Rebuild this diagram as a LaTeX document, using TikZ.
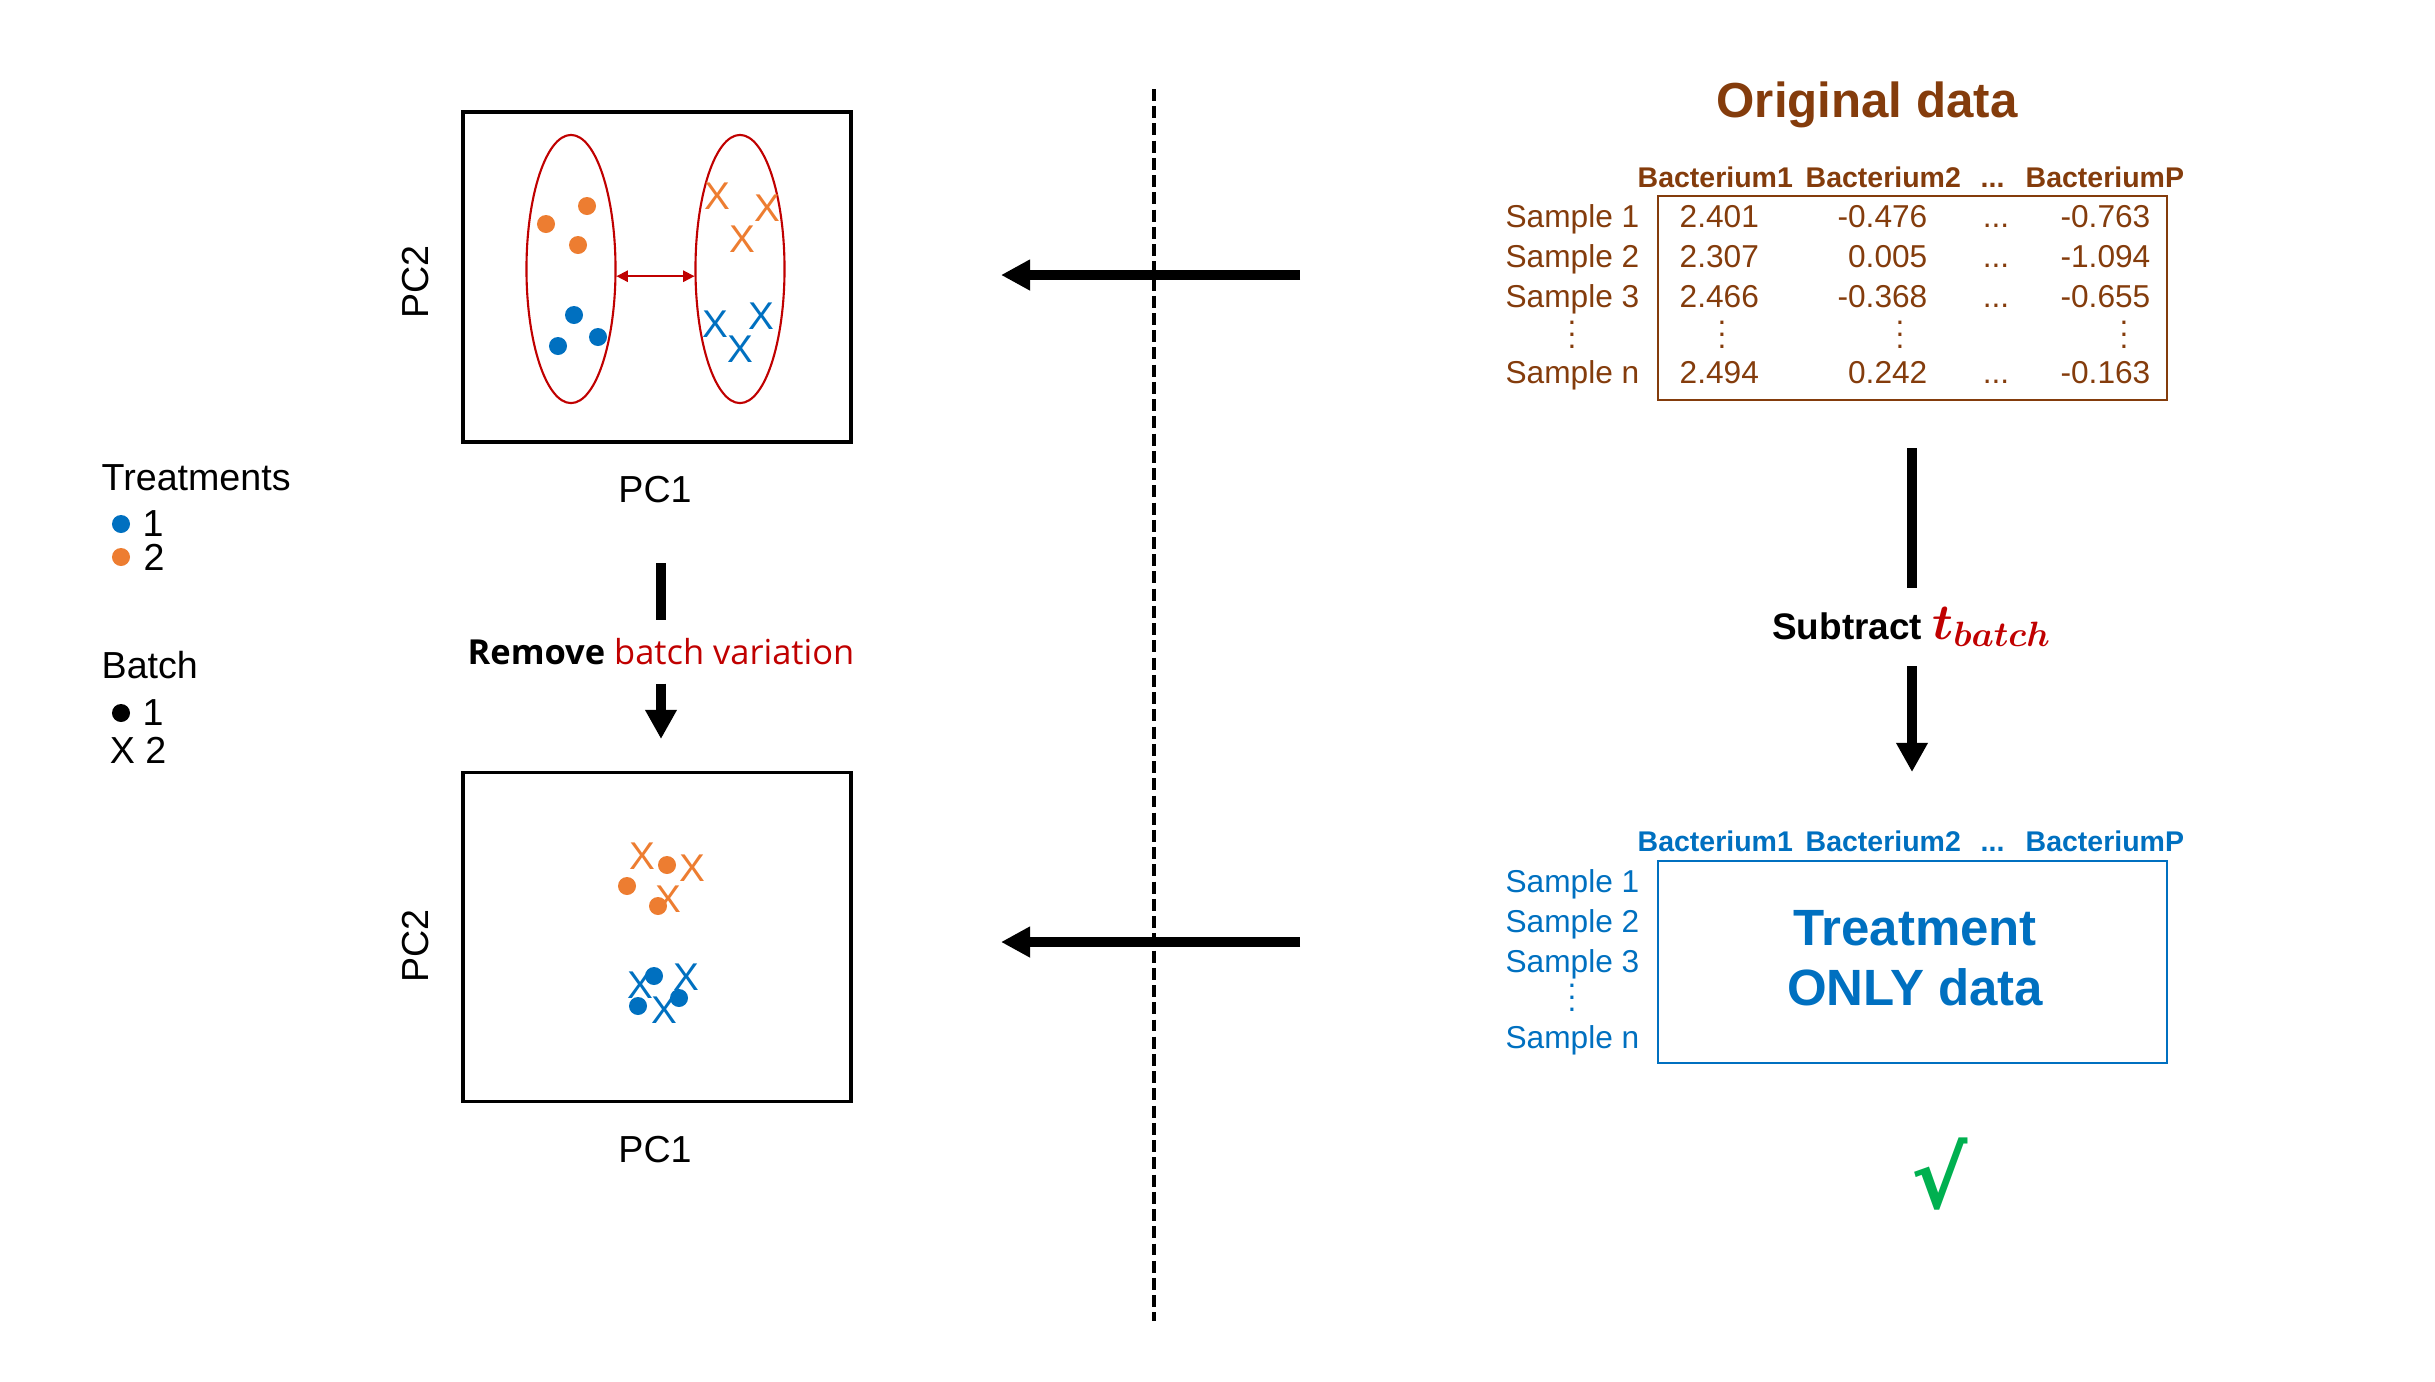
\documentclass[tikz,border=0pt]{standalone}
\usepackage{fontspec}
\usepackage{amsmath}
\setmainfont{Liberation Sans}
\newfontfamily\uifont{Open Sans}
\newfontfamily\symfont{DejaVu Sans}
\usetikzlibrary{arrows.meta,shapes.geometric}
\definecolor{torange}{HTML}{ED7D31}
\definecolor{tblue}{HTML}{0070C0}
\definecolor{tred}{HTML}{C00000}
\definecolor{tbrown}{HTML}{843C0C}
\definecolor{tgreen}{HTML}{00B050}
\newcommand{\vdotsx}{.\\.\\.}

\begin{document}
\begin{tikzpicture}[
        x=0.01cm, y=-0.01cm, % 1 единица = 1 пиксель
        pcbox/.style = {draw, line width=1pt, minimum width=3.88cm, minimum height=3.3cm, inner sep=0}, % рамка графика
        clus/.style = {ellipse, draw=tred, line width=0.6pt, minimum width=0.89cm, minimum height=2.68cm, inner sep=0},
        spread/.style = {draw=tred, line width=0.5pt, {Triangle[length=3.2pt,width=3.2pt]}-{Triangle[length=3.2pt,width=3.2pt]}},
        dot/.style = {circle, fill, inner sep=0, minimum size=0.18cm}, % точка
        xmark/.style = {inner sep=0, font=\fontsize{11}{11}\selectfont}, % крестик
        lbl/.style = {inner sep=0, font=\fontsize{10.7}{12}\selectfont},
        hdr/.style = {inner sep=0, anchor=base west, font=\bfseries\fontsize{8.1}{9}\selectfont},
        cellt/.style = {inner sep=0, font=\fontsize{9}{10}\selectfont},
        vdts/.style = {inner sep=0, align=center, font=\fontsize{9}{3.4}\selectfont},
        tabbox/.style = {draw, line width=0.6pt, minimum width=5.09cm, inner sep=0},
        shaft/.style = {draw, line width=2.8pt},
        bigarrow/.style = {draw, line width=2.8pt, -{Triangle[length=8.3pt,width=8.5pt]}},
        harrow/.style = {draw, line width=3.1pt, -{Triangle[length=8.3pt,width=8.3pt]}},
        divider/.style = {draw, line width=1pt, dash pattern=on 3.4pt off 1.5pt},
    ]
    \useasboundingbox (0,0) rectangle (2435,1381);

    % верхний график: до удаления
    \node[pcbox] (pcaA) at (657,277) {};
    \node[lbl] (pcaAx) at (655,490) {PC1};
    \node[lbl, rotate=90] (pcaAy) at (416,282) {PC2};
    \node[clus] (clA) at (571,269) {};
    \node[clus] (clB) at (740,269) {};
    \draw[spread] (clA.-9) -- (clB.189);
    \node[dot, torange] (aO1) at (587,206) {};
    \node[dot, torange] (aO2) at (546,224) {};
    \node[dot, torange] (aO3) at (578,245) {};
    \node[dot, tblue] (aB1) at (574,315) {};
    \node[dot, tblue] (aB2) at (558,346) {};
    \node[dot, tblue] (aB3) at (598,337) {};
    \node[xmark, torange] (aX1) at (717,196) {X};
    \node[xmark, torange] (aX2) at (767,208) {X};
    \node[xmark, torange] (aX3) at (742,239) {X};
    \node[xmark, tblue] (aX4) at (715,324) {X};
    \node[xmark, tblue] (aX5) at (761,316) {X};
    \node[xmark, tblue] (aX6) at (740,349) {X};

    % нижний график: после удаления
    \node[pcbox, minimum height=3.29cm] (pcaB) at (657,937) {};
    \node[lbl] (pcaBx) at (655,1150) {PC1};
    \node[lbl, rotate=90] (pcaBy) at (416,946) {PC2};
    \node[dot, torange] (bO1) at (627,886) {};
    \node[dot, torange] (bO2) at (667,865) {};
    \node[dot, torange] (bO3) at (658,906) {};
    \node[xmark, torange] (bX1) at (642,856) {X};
    \node[xmark, torange] (bX2) at (692,868) {X};
    \node[xmark, torange] (bX3) at (668,899) {X};
    \node[xmark, tblue] (bX4) at (640,985) {X};
    \node[xmark, tblue] (bX5) at (686,977) {X};
    \node[xmark, tblue] (bX6) at (664,1010) {X};
    \node[dot, tblue] (bB1) at (654,976) {};
    \node[dot, tblue] (bB2) at (638,1006) {};
    \node[dot, tblue] (bB3) at (679,998) {};

    % легенда
    \node[lbl, anchor=west] (trt) at (101,478) {Treatments};
    \node[dot, tblue] (trt1d) at (121,524) {};
    \node[lbl] (trt1) at (153,524) {1};
    \node[dot, torange] (trt2d) at (121,557) {};
    \node[lbl] (trt2) at (154,557) {2};
    \node[lbl, anchor=west] (bat) at (101,665) {Batch};
    \node[dot, black] (bat1d) at (121,713) {};
    \node[lbl] (bat1) at (153,713) {1};
    \node[lbl] (bat2) at (138,750) {X 2};

    % удаление батч-эффекта
    \coordinate (rmTop) at (661,563);
    \coordinate (rmEnd) at (661,739);
    \node[inner sep=0, minimum height=0.62cm, font=\uifont\fontsize{9.8}{12}\selectfont] (rmv) at (661,652)
        {{\bfseries Remove} \textcolor{tred}{batch variation}};
    \draw[shaft] (rmTop) -- (rmv.north);
    \draw[bigarrow] (rmv.south) -- (rmEnd);

    % разделитель и стрелки к графикам
    \coordinate (sepT) at (1154,89);
    \coordinate (sepB) at (1154,1321);
    \draw[divider] (sepT) -- (sepB);
    \coordinate (arA) at (1300,275);
    \coordinate (arAe) at (1001,275);
    \draw[harrow] (arA) -- (arAe);
    \coordinate (arB) at (1300,942);
    \coordinate (arBe) at (1001,942);
    \draw[harrow] (arB) -- (arBe);

    % исходные данные
    \node[inner sep=0, anchor=base, tbrown, font=\bfseries\fontsize{14}{16}\selectfont] (orig) at (1867,117) {Original data};
    \node[hdr, tbrown] (hA1) at (1637,187) {Bacterium1};
    \node[hdr, tbrown] (hA2) at (1805,187) {Bacterium2};
    \node[hdr, tbrown] (hA3) at (1980,187) {...};
    \node[hdr, tbrown] (hAP) at (2025,187) {BacteriumP};
    \node[tabbox, draw=tbrown, minimum height=2.04cm] (tabA) at (1912.5,298) {};
    \node[cellt, tbrown, anchor=base east] (sA1) at (1640,227) {Sample 1};
    \node[cellt, tbrown, anchor=base west] (vA11) at (1679,227) {2.401};
    \node[cellt, tbrown, anchor=base east] (vA12) at (1928,227) {-0.476};
    \node[cellt, tbrown, anchor=base] (vA13) at (1996,227) {...};
    \node[cellt, tbrown, anchor=base east] (vA14) at (2151,227) {-0.763};
    \node[cellt, tbrown, anchor=base east] (sA2) at (1640,267) {Sample 2};
    \node[cellt, tbrown, anchor=base west] (vA21) at (1679,267) {2.307};
    \node[cellt, tbrown, anchor=base east] (vA22) at (1928,267) {0.005};
    \node[cellt, tbrown, anchor=base] (vA23) at (1996,267) {...};
    \node[cellt, tbrown, anchor=base east] (vA24) at (2151,267) {-1.094};
    \node[cellt, tbrown, anchor=base east] (sA3) at (1640,307) {Sample 3};
    \node[cellt, tbrown, anchor=base west] (vA31) at (1679,307) {2.466};
    \node[cellt, tbrown, anchor=base east] (vA32) at (1928,307) {-0.368};
    \node[cellt, tbrown, anchor=base] (vA33) at (1996,307) {...};
    \node[cellt, tbrown, anchor=base east] (vA34) at (2151,307) {-0.655};
    \node[vdts, tbrown] (dA0) at (1572,335) {\vdotsx};
    \node[vdts, tbrown] (dA1) at (1722,335) {\vdotsx};
    \node[vdts, tbrown] (dA2) at (1900,335) {\vdotsx};
    \node[vdts, tbrown] (dA4) at (2124,335) {\vdotsx};
    \node[cellt, tbrown, anchor=base east] (sAn) at (1640,383) {Sample n};
    \node[cellt, tbrown, anchor=base west] (vAn1) at (1679,383) {2.494};
    \node[cellt, tbrown, anchor=base east] (vAn2) at (1928,383) {0.242};
    \node[cellt, tbrown, anchor=base] (vAn3) at (1996,383) {...};
    \node[cellt, tbrown, anchor=base east] (vAn4) at (2151,383) {-0.163};

    % вычитание
    \coordinate (sbTop) at (1912,448);
    \coordinate (sbEnd) at (1912,772);
    \node[inner sep=0, minimum height=0.77cm, font=\bfseries\fontsize{10.5}{12}\selectfont] (sub) at (1912,627)
        {Subtract {\fontsize{14}{14}\selectfont$\color{tred}\boldsymbol{t}_{\boldsymbol{batch}}$}};
    \draw[shaft] (sbTop) -- (sub.north);
    \draw[bigarrow] (sub.south) -- (sbEnd);

    % данные только с эффектом обработки
    \node[hdr, tblue] (hB1) at (1637,851) {Bacterium1};
    \node[hdr, tblue] (hB2) at (1805,851) {Bacterium2};
    \node[hdr, tblue] (hB3) at (1980,851) {...};
    \node[hdr, tblue] (hBP) at (2025,851) {BacteriumP};
    \node[tabbox, draw=tblue, minimum height=2.02cm] (tabB) at (1912.5,962) {};
    \node[inner sep=0, align=center, tblue, font=\bfseries\fontsize{14.5}{17}\selectfont] (trtOnly) at (1915,958) {Treatment\\ONLY data};
    \node[cellt, tblue, anchor=base east] (sB1) at (1640,892) {Sample 1};
    \node[cellt, tblue, anchor=base east] (sB2) at (1640,932) {Sample 2};
    \node[cellt, tblue, anchor=base east] (sB3) at (1640,972) {Sample 3};
    \node[vdts, tblue] (dB0) at (1572,998) {\vdotsx};
    \node[cellt, tblue, anchor=base east] (sBn) at (1640,1048) {Sample n};

    \node[inner sep=0, tgreen, font=\symfont\bfseries\fontsize{24}{24}\selectfont] (okmark) at (1940,1174) {√};
\end{tikzpicture}
\end{document}
